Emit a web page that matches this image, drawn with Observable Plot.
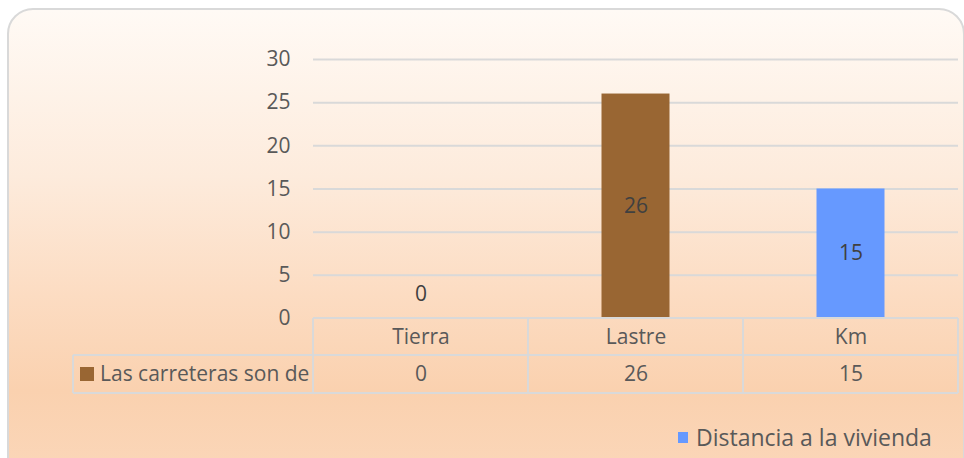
<!DOCTYPE html>
<html>
<head>
<meta charset="utf-8">
<script src="https://cdn.jsdelivr.net/npm/d3@7"></script>
<script src="https://cdn.jsdelivr.net/npm/@observablehq/plot@0.6"></script>
<style>
html,body{margin:0;padding:0;width:964px;height:458px;overflow:hidden;background:#fff;}
#wrap{position:relative;width:964px;height:458px;}
#bg{position:absolute;left:7px;top:8px;width:958px;height:480px;border:2px solid #d9d9d9;border-radius:26px;box-sizing:border-box;
  background:linear-gradient(to bottom,#fffaf5 0%,#fdebdc 35%,#fcdcc2 60%,#fad1af 80%,#fbd7ba 100%);}
#chart{position:absolute;left:0;top:0;}
#legend{position:absolute;left:678px;top:421px;font-family:"Open Sans";font-size:23px;color:#595959;display:flex;align-items:center;white-space:nowrap;}
#legend .sw{display:inline-block;width:10px;height:11px;margin-right:8px;}
</style>
</head>
<body>
<div id="wrap"><div id="bg"></div><div id="chart"></div><div id="legend"></div></div>
<script>
// ---- data ----
const categories = ["Tierra", "Lastre", "Km"];
const values = [0, 26, 15];
const series = ["Las carreteras son de", "Las carreteras son de", "Distancia a la vivienda"];
const seriesNames = ["Las carreteras son de", "Distancia a la vivienda"];
const seriesColors = ["#996633", "#6699FF"];
const yTicks = [0, 5, 10, 15, 20, 25, 30];
const tableSeries = "Las carreteras son de";

const data = categories.map((c, i) => ({cat: c, value: values[i], series: series[i]}));

// ---- layout / style ----
const FONT = "Open Sans";
const FS = 21;
const TXT = "#595959";
const GRID = "#d9d9d9";
const ROW1 = 37, ROW2 = 38, LEGW = 240;

function tableMark(index, scales, vals, dims) {
  const x = scales.x, y0 = scales.y(0);
  const step = x(categories[1]) - x(categories[0]);
  const xl = x(categories[0]);
  const xr = x(categories[categories.length - 1]) + step;
  const xleg = xl - LEGW;
  const g = d3.create("svg:g").attr("fill", "none").attr("stroke", GRID).attr("stroke-width", 2);
  g.append("line").attr("x1", xl).attr("x2", xr).attr("y1", y0).attr("y2", y0);
  g.append("line").attr("x1", xleg).attr("x2", xr).attr("y1", y0 + ROW1).attr("y2", y0 + ROW1);
  g.append("line").attr("x1", xleg).attr("x2", xr).attr("y1", y0 + ROW1 + ROW2).attr("y2", y0 + ROW1 + ROW2);
  g.append("line").attr("x1", xleg).attr("x2", xleg).attr("y1", y0 + ROW1).attr("y2", y0 + ROW1 + ROW2);
  for (let i = 0; i <= categories.length; i++) {
    const xv = xl + i * step;
    g.append("line").attr("x1", xv).attr("x2", xv).attr("y1", y0).attr("y2", y0 + ROW1 + ROW2);
  }
  const cy = y0 + ROW1 + ROW2 / 2;
  g.append("rect").attr("x", xleg + 7).attr("y", cy - 7).attr("width", 14).attr("height", 14)
    .attr("stroke", "none").attr("fill", seriesColors[seriesNames.indexOf(tableSeries)]);
  g.append("text").attr("x", xleg + 27).attr("y", cy).attr("dy", "0.35em")
    .attr("text-anchor", "start")
    .attr("stroke", "none").attr("fill", TXT).attr("font-size", FS).attr("font-family", FONT)
    .text(tableSeries);
  return g.node();
}

const chart = Plot.plot({
  width: 964,
  height: 458,
  marginLeft: 313,
  marginRight: 6,
  marginTop: 59,
  marginBottom: 140,
  style: {background: "transparent", fontFamily: FONT, fontSize: FS + "px", color: TXT, overflow: "visible"},
  x: {domain: categories, padding: 0, axis: null},
  y: {domain: [0, 30], axis: null},
  color: {domain: seriesNames, range: seriesColors},
  marks: [
    Plot.gridY(yTicks.filter(t => t > 0), {stroke: GRID, strokeOpacity: 1, strokeWidth: 2}),
    Plot.axisY(yTicks, {tickSize: 0, tickPadding: 23, fontSize: FS, fill: TXT, label: null}),
    Plot.barY(data, {x: "cat", y: "value", fill: "series", insetLeft: 73.5, insetRight: 73.5}),
    Plot.text(data.filter(d => d.value > 0), {x: "cat", y: d => d.value / 2, text: d => String(d.value), fill: "#404040", fontSize: FS}),
    Plot.text(data.filter(d => d.value === 0), {x: "cat", y: 0, dy: -24, text: d => String(d.value), fill: "#404040", fontSize: FS}),
    tableMark,
    Plot.text(data, {x: "cat", y: 0, dy: ROW1 / 2, text: "cat", fill: TXT, fontSize: FS}),
    Plot.text(data, {x: "cat", y: 0, dy: ROW1 + ROW2 / 2, text: d => String(d.value), fill: TXT, fontSize: FS})
  ]
});
document.getElementById("chart").appendChild(chart);

const leg = document.getElementById("legend");
leg.innerHTML = `<span class="sw" style="background:${seriesColors[1]}"></span><span>${seriesNames[1]}</span>`;
</script>
</body>
</html>
